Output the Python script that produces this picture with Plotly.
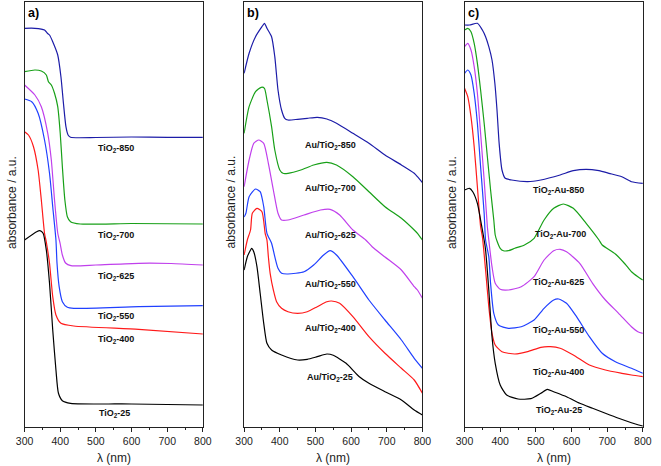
import plotly.graph_objects as go

# ---------------- data (absorbance in arbitrary units) ----------------
# panel a) TiO2
a850_x = [300, 329, 356, 364, 370, 379, 393, 402, 409, 416, 422, 429, 500, 600, 700, 800]
a850_y = [398.7, 398.7, 397, 393.7, 392, 385.3, 372, 350.3, 323.7, 300.3, 292, 289.7, 289.5, 290, 289.7, 289.7]
a700_x = [300, 329, 347, 361, 367, 375, 384, 393, 400, 406, 413, 420, 429, 456, 600, 800]
a700_y = [355.3, 357, 356, 352, 345.3, 342, 333.7, 320.3, 293.7, 260.3, 227, 210.3, 205.3, 203, 203.5, 203]
a625_x = [300, 329, 347, 365, 375, 384, 393, 400, 406, 415, 430, 500, 620, 711, 800]
a625_y = [342, 332, 320.3, 293.7, 267, 227, 194, 183, 172, 164, 161.3, 162, 163.7, 163.5, 162]
a550_x = [300, 320, 338, 356, 370, 379, 388, 391, 397, 406, 420, 438, 620, 800]
a550_y = [328, 325.3, 313.7, 287, 253.7, 220.3, 187, 163.7, 140.3, 125.3, 119.7, 118.7, 120.3, 121.3]
a400_x = [300, 311, 325, 338, 347, 356, 361, 370, 379, 388, 402, 438, 620, 800]
a400_y = [295.3, 292, 280.3, 257, 227, 193.7, 185, 163.7, 130.3, 112, 103.7, 101, 97.7, 93]
a25_x = [300, 334, 343, 352, 361, 370, 379, 388, 395, 406, 429, 600, 800]
a25_y = [187, 195.3, 196.3, 193.7, 177, 143.7, 97, 57, 33.7, 26.3, 23.7, 23, 22]

# panel b) Au/TiO2
b850_x = [300, 314, 332, 350, 357, 364, 377, 386, 395, 405, 414, 423, 450, 477, 505, 532, 559, 605, 650, 695, 741, 777, 786, 800]
b850_y = [353.7, 373.7, 390.3, 400.3, 403.7, 398.7, 390.3, 370.3, 337, 317, 308.7, 307, 307.7, 308.7, 309.7, 308, 303.7, 293.7, 283.7, 272, 262, 253.7, 250.3, 244.3]
b700_x = [300, 314, 332, 348, 357, 364, 377, 386, 400, 409, 423, 459, 495, 532, 559, 605, 650, 695, 741, 777, 786, 800]
b700_y = [293.7, 320.3, 335.3, 339.7, 338.7, 327, 300.3, 277, 257, 253.7, 253.7, 257, 262, 264.7, 262, 250.3, 235.3, 220.3, 208.7, 197, 193.7, 187]
b625_x = [300, 314, 327, 341, 355, 368, 382, 395, 405, 423, 468, 514, 541, 568, 605, 641, 659, 695, 741, 777, 786, 800]
b625_y = [240.3, 267, 283.7, 287, 283.7, 263.7, 237, 213.7, 207, 207, 212, 217, 217.7, 212, 197, 187, 180.3, 170, 157, 140.3, 137, 128.7]
b550_x = [300, 305, 314, 332, 345, 355, 364, 377, 386, 395, 405, 423, 468, 495, 523, 541, 559, 605, 650, 695, 741, 777, 800]
b550_y = [210, 213.7, 230.3, 238, 235.3, 220.3, 193.7, 183.7, 170.3, 158.7, 153.7, 153, 155.3, 162, 172, 176.3, 172, 150.3, 127, 107, 87, 68.7, 58.7]
b400_x = [300, 309, 318, 323, 336, 350, 359, 364, 368, 373, 382, 391, 405, 423, 450, 477, 505, 532, 545, 568, 605, 650, 695, 741, 777, 800]
b400_y = [172, 187, 197, 213.7, 218.7, 215.3, 193.7, 187, 170.3, 153.7, 137, 125.3, 118.7, 115.3, 113.7, 115.3, 120.3, 125.3, 126, 123.7, 110.3, 90.3, 73.7, 58.7, 47, 33.7]
b25_x = [300, 309, 318, 321, 327, 336, 345, 355, 364, 377, 405, 450, 477, 505, 532, 550, 586, 623, 650, 695, 741, 777, 800]
b25_y = [157, 170.3, 177, 178.7, 175.3, 160.3, 133.7, 103.7, 83.7, 77, 72, 67, 67.7, 70.3, 73, 71.7, 63.7, 50.3, 43.7, 35.3, 27, 17, 12]

# panel c) TiO2-Au
c850_x = [300, 314, 336, 350, 359, 368, 377, 385, 391, 397, 405, 414, 432, 477, 514, 568, 605, 641, 677, 705, 741, 768, 800]
c850_y = [402, 402, 403.7, 397, 390.3, 380.3, 367, 343.7, 317, 283.7, 257, 248.7, 247, 245.3, 247, 252, 256.3, 257.7, 256.3, 253.7, 250.3, 245.3, 243.7]
c700_x = [300, 309, 318, 327, 336, 345, 355, 364, 373, 382, 386, 391, 400, 409, 423, 441, 468, 495, 523, 550, 577, 605, 641, 677, 686, 723, 750, 768, 786, 800]
c700_y = [397, 398.7, 395.3, 383.7, 363.7, 337, 303.7, 270.3, 237, 207, 192, 186, 178.7, 176.3, 176.3, 178.7, 182, 188.7, 207, 218.7, 223, 218.7, 203.7, 187, 182, 173, 163, 155.3, 150.3, 147]
c625_x = [300, 309, 318, 327, 336, 345, 355, 364, 368, 377, 386, 400, 423, 459, 495, 523, 550, 568, 586, 623, 659, 695, 732, 768, 786, 800]
c625_y = [380.3, 383.7, 377, 360.3, 333.7, 293.7, 247, 200.3, 187, 160.3, 143.7, 137.7, 137, 140.3, 150.3, 167, 176.3, 177.7, 175.3, 163.7, 143.7, 127, 113.7, 100.3, 95.3, 93.7]
c550_x = [300, 309, 318, 327, 336, 345, 355, 359, 368, 373, 382, 395, 423, 459, 495, 523, 550, 564, 586, 614, 650, 686, 723, 768, 800]
c550_y = [353.7, 357, 352, 333.7, 303.7, 260.3, 213.7, 187, 170.3, 143.7, 113.7, 102, 98.7, 100.3, 107, 118.7, 127, 128, 123.7, 110.3, 90.3, 73.7, 65.3, 58.7, 53.7]
c400_x = [300, 309, 318, 327, 336, 345, 350, 359, 368, 377, 386, 405, 441, 477, 514, 541, 568, 605, 650, 695, 741, 768, 800]
c400_y = [338.7, 330.3, 310.3, 280.3, 240.3, 200.3, 190.3, 157, 120.3, 93.7, 82, 75.3, 73, 75.3, 79.7, 80.3, 78.7, 72, 62, 57, 53.7, 52, 50.3]
c25_x = [300, 314, 323, 336, 345, 355, 359, 368, 377, 386, 400, 418, 450, 486, 514, 532, 550, 586, 623, 659, 695, 732, 768, 800]
c25_y = [237, 238.7, 235.3, 223.7, 207, 187, 177, 137, 90.3, 63.7, 42, 32, 28, 28.3, 33.7, 37.7, 35.3, 30.3, 23.7, 18.7, 13.7, 8.7, 4.3, 1]

x_ticks = [300, 400, 500, 600, 700, 800]
panel_titles = ["a)", "b)", "c)"]
y_title = "absorbance / a.u."
x_title = "λ (nm)"

labels_a = ["TiO<sub>2</sub>-850", "TiO<sub>2</sub>-700", "TiO<sub>2</sub>-625", "TiO<sub>2</sub>-550", "TiO<sub>2</sub>-400", "TiO<sub>2</sub>-25"]
labels_a_pos = [(556, 279), (556, 192), (556, 151), (556, 111), (556, 88), (551, 14)]
labels_b = ["Au/TiO<sub>2</sub>-850", "Au/TiO<sub>2</sub>-700", "Au/TiO<sub>2</sub>-625", "Au/TiO<sub>2</sub>-550", "Au/TiO<sub>2</sub>-400", "Au/TiO<sub>2</sub>-25"]
labels_b_pos = [(541, 282), (541, 239), (541, 192), (541, 143), (541, 99), (541, 50)]
labels_c = ["TiO<sub>2</sub>-Au-850", "TiO<sub>2</sub>-Au-700", "TiO<sub>2</sub>-Au-625", "TiO<sub>2</sub>-Au-550", "TiO<sub>2</sub>-Au-400", "TiO<sub>2</sub>-Au-25"]
labels_c_pos = [(564, 237), (568, 193), (564, 145), (564, 97), (564, 55), (564, 17)]

colors = ["#1c1ca8", "#18a018", "#c040ec", "#2040ff", "#ff1a1a", "#000000"]

panels = [
    [(a850_x, a850_y), (a700_x, a700_y), (a625_x, a625_y), (a550_x, a550_y), (a400_x, a400_y), (a25_x, a25_y)],
    [(b850_x, b850_y), (b700_x, b700_y), (b625_x, b625_y), (b550_x, b550_y), (b400_x, b400_y), (b25_x, b25_y)],
    [(c850_x, c850_y), (c700_x, c700_y), (c625_x, c625_y), (c550_x, c550_y), (c400_x, c400_y), (c25_x, c25_y)],
]
panel_labels = [(labels_a, labels_a_pos), (labels_b, labels_b_pos), (labels_c, labels_c_pos)]

W, H = 661, 466
px_left = [16, 241.7, 468.3]
px_w = 183.3
py_top, py_bot = 2, 427

fig = go.Figure()
annotations = []
layout = dict(width=W, height=H, margin=dict(l=0, r=0, t=0, b=0),
              paper_bgcolor="white", plot_bgcolor="white", showlegend=False,
              font=dict(family="Liberation Sans, Arial, sans-serif", color="#222"))

for i in range(3):
    xa = "x" if i == 0 else f"x{i+1}"
    ya = "y" if i == 0 else f"y{i+1}"
    for (xs, ys), col in zip(panels[i], colors):
        fig.add_trace(go.Scatter(x=xs, y=ys, mode="lines",
                                 line=dict(color=col, width=1.2, shape="spline", smoothing=0.6),
                                 xaxis=xa, yaxis=ya, hoverinfo="skip"))
    d0 = px_left[i] / W
    d1 = (px_left[i] + px_w) / W
    layout["xaxis" if i == 0 else f"xaxis{i+1}"] = dict(
        domain=[d0, d1], range=[300, 800], anchor=ya, tickvals=x_ticks,
        ticks="outside", ticklen=4, tickwidth=1, tickcolor="#222",
        minor=dict(ticks="outside", dtick=50, tick0=300, ticklen=2, tickcolor="#222"),
        showline=True, linecolor="#222", linewidth=1, mirror=True, showgrid=False, zeroline=False,
        tickfont=dict(size=10.5, color="#222"))
    layout["yaxis" if i == 0 else f"yaxis{i+1}"] = dict(
        domain=[(H - py_bot) / H, (H - py_top) / H], range=[0, 425], anchor=xa,
        showticklabels=False, ticks="", showline=True, linecolor="#222", linewidth=1,
        mirror=True, showgrid=False, zeroline=False)
    # panel title
    annotations.append(dict(text="<b>" + panel_titles[i] + "</b>", xref="paper", yref="paper",
                            x=(px_left[i] + 1) / W, y=(H - 4) / H, xanchor="left", yanchor="top",
                            showarrow=False, font=dict(size=12.5, color="#000")))
    # y title
    annotations.append(dict(text=y_title, xref="paper", yref="paper", textangle=-90,
                            x=(px_left[i] - 13) / W, y=(H - 202) / H, xanchor="center", yanchor="middle",
                            showarrow=False, font=dict(size=12, color="#222")))
    # x title
    annotations.append(dict(text=x_title, xref="paper", yref="paper",
                            x=(px_left[i] + px_w / 2) / W, y=(H - 458) / H, xanchor="center", yanchor="middle",
                            showarrow=False, font=dict(size=12, color="#222")))
    labs, poss = panel_labels[i]
    for t, (lx, ly) in zip(labs, poss):
        annotations.append(dict(text="<b>" + t + "</b>", x=lx, y=ly, xref=xa, yref=ya,
                                showarrow=False, xanchor="center", yanchor="middle",
                                font=dict(size=9, color="#111")))

layout["annotations"] = annotations
fig.update_layout(**layout)
fig.write_html("out.html")
